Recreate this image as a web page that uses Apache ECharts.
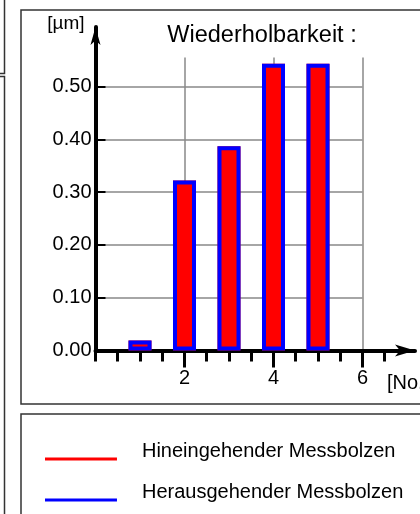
<!DOCTYPE html>
<html>
<head>
<meta charset="utf-8">
<script src="https://cdn.jsdelivr.net/npm/echarts@6/dist/echarts.min.js"></script>
<style>html,body{margin:0;padding:0;background:#fff;}#c{width:420px;height:514px;}</style>
</head>
<body>
<div id="c"></div>
<script>
// ---- data ----
const positions = [1, 2, 3, 4, 5];
const hineinValues = [0.019, 0.322, 0.387, 0.543, 0.543];
const herausValues = [0.019, 0.322, 0.387, 0.543, 0.543];
const seriesNames = ['Hineingehender Messbolzen', 'Herausgehender Messbolzen'];
const yTickValues = [0, 0.1, 0.2, 0.3, 0.4, 0.5];
const xMajorTicks = [2, 4, 6];
const xMinorTicks = [0, 0.5, 1, 1.5, 2.5, 3, 3.5, 4.5, 5, 5.5, 6.5];
const titleText = 'Wiederholbarkeit :';
const yUnit = '[µm]';
const xUnit = '[No.]';

const FONT = '"Liberation Sans", Arial, sans-serif';
const chart = echarts.init(document.getElementById('c'), null, {renderer: 'canvas'});

const pairs = (vals) => positions.map((p, i) => [p, vals[i]]);
// legend icon: thin line in the lower part of the icon box
const lineIcon = 'path://M0 0L72 0L72 0.01L0 0.01Z M0 18L72 18L72 21L0 21Z M0 23L0 23.01L0.01 23.01Z';

chart.setOption({
  animation: false,
  backgroundColor: '#ffffff',
  textStyle: {fontFamily: FONT, color: '#000'},
  title: {
    text: titleText, left: 257, top: 19, textAlign: 'center',
    textStyle: {fontSize: 23.5, fontWeight: 'normal', color: '#000', fontFamily: FONT}
  },
  legend: {
    orient: 'vertical', left: 45, top: 439.5, padding: 0, selectedMode: false,
    itemWidth: 72, itemHeight: 23, itemGap: 18,
    textStyle: {fontSize: 20, color: '#000', fontFamily: FONT, padding: [0, 0, 0, 20]},
    data: [
      {name: seriesNames[0], icon: lineIcon, itemStyle: {color: '#ff0000', borderWidth: 0}},
      {name: seriesNames[1], icon: lineIcon, itemStyle: {color: '#0000ff', borderWidth: 0}}
    ]
  },
  graphic: [
    {type: 'rect', shape: {x: -100, y: -10, width: 104.5, height: 83.5}, style: {fill: 'none', stroke: '#333', lineWidth: 1.5}, z: -1},
    {type: 'rect', shape: {x: -100, y: 76.5, width: 104.5, height: 500}, style: {fill: 'none', stroke: '#333', lineWidth: 1.5}, z: -1},
    {type: 'rect', shape: {x: 21, y: 10, width: 440, height: 394}, style: {fill: 'none', stroke: '#333', lineWidth: 1.5}, z: -1},
    {type: 'rect', shape: {x: 21, y: 414, width: 440, height: 200}, style: {fill: 'none', stroke: '#333', lineWidth: 1.5}, z: -1}
  ],
  grid: [
    {left: 95.5, top: 57.5, width: 267, height: 293, outerBoundsMode: 'none', containLabel: false},
    {left: 95.5, top: 27, width: 319.5, height: 323.5, outerBoundsMode: 'none', containLabel: false}
  ],
  xAxis: [
    { // plot grid: vertical split lines
      type: 'value', gridIndex: 0, min: 0, max: 6, interval: 2,
      axisLine: {show: false}, axisTick: {show: false}, axisLabel: {show: false},
      splitLine: {show: true, showMinLine: false, lineStyle: {color: '#888', width: 1.5}}
    },
    { // main axis line + minor ticks
      type: 'value', gridIndex: 1, min: 0, max: 7.18, position: 'bottom',
      axisLine: {show: true, symbol: ['none', 'arrow'], symbolSize: [9, 20], lineStyle: {color: '#000', width: 4}},
      axisTick: {show: true, customValues: xMinorTicks, length: 11, lineStyle: {color: '#000', width: 3}},
      axisLabel: {show: false},
      splitLine: {show: false}
    },
    { // major ticks + labels
      type: 'value', gridIndex: 1, min: 0, max: 7.18, position: 'bottom',
      axisLine: {show: false},
      axisTick: {show: true, customValues: xMajorTicks, length: 17, lineStyle: {color: '#000', width: 3}},
      axisLabel: {show: true, customValues: xMajorTicks, margin: 18, fontSize: 20, color: '#000', fontFamily: FONT},
      splitLine: {show: false},
      name: xUnit, nameLocation: 'end', nameGap: -28,
      nameTextStyle: {fontSize: 20, color: '#000', fontFamily: FONT, align: 'left', verticalAlign: 'top', padding: [23, 0, 0, 0]}
    }
  ],
  yAxis: [
    {
      type: 'value', gridIndex: 0, min: 0, max: 0.555, interval: 0.1,
      axisLine: {show: false}, axisTick: {show: false}, axisLabel: {show: false},
      splitLine: {show: true, showMinLine: false, showMaxLine: false, lineStyle: {color: '#888', width: 1.5}}
    },
    {
      type: 'value', gridIndex: 1, min: 0, max: 0.6127,
      axisLine: {show: true, symbol: ['none', 'arrow'], symbolSize: [7.5, 18], lineStyle: {color: '#000', width: 4}},
      axisTick: {show: true, inside: true, customValues: yTickValues.slice(1), length: 10, lineStyle: {color: '#000', width: 2}},
      axisLabel: {show: true, customValues: yTickValues, margin: 4, fontSize: 20, color: '#000', fontFamily: FONT,
        formatter: (v) => Number(v).toFixed(2)},
      splitLine: {show: false},
      name: yUnit, nameLocation: 'end', nameGap: 3,
      nameTextStyle: {fontSize: 19, color: '#000', fontFamily: FONT, align: 'right', verticalAlign: 'middle', padding: [0, 11, 0, 0]}
    }
  ],
  series: [
    {
      name: seriesNames[0], type: 'bar', xAxisIndex: 0, yAxisIndex: 0,
      data: pairs(hineinValues), barWidth: 23, barGap: '-100%',
      itemStyle: {color: '#ff0000'}
    },
    {
      name: seriesNames[1], type: 'bar', xAxisIndex: 0, yAxisIndex: 0,
      data: pairs(herausValues), barWidth: 23, barGap: '-100%',
      itemStyle: {color: 'rgba(0,0,0,0)', borderColor: '#0000ff', borderWidth: 4}
    }
  ]
});
</script>
</body>
</html>
